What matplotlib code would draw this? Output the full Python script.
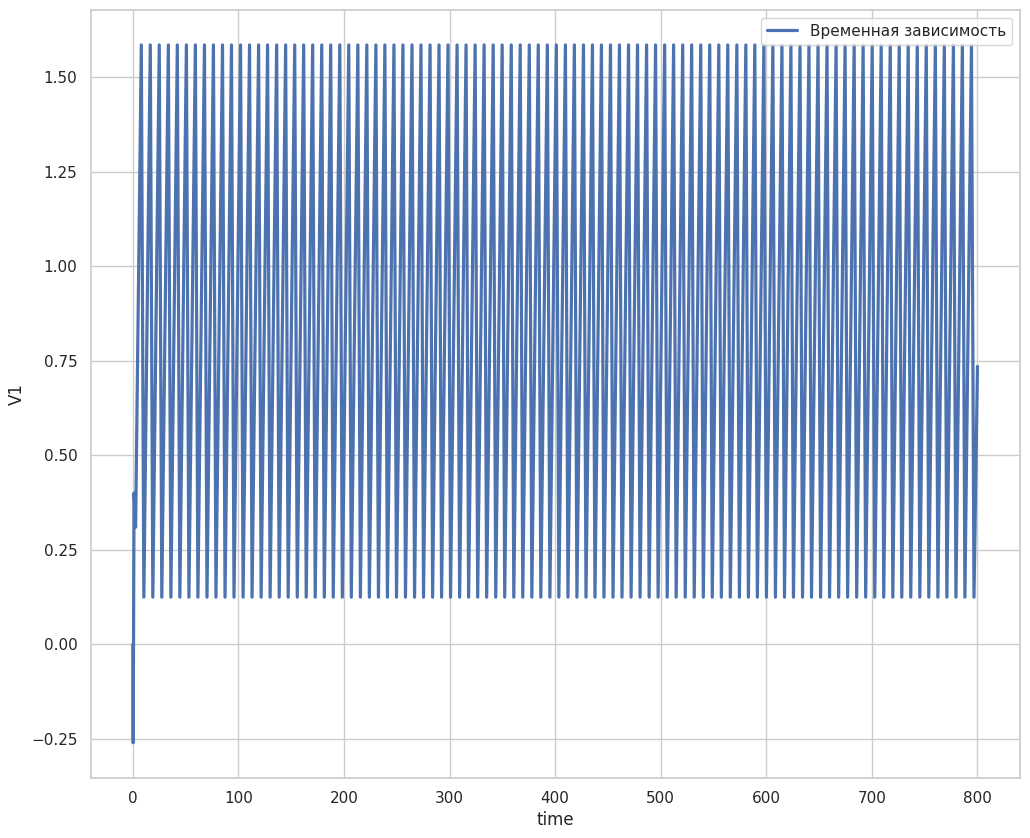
import numpy as np
import matplotlib
matplotlib.use("Agg")
import matplotlib.pyplot as plt
import seaborn as sns

# start-up transient
start_t = [0.0, 0.3, 1.1, 2.6]
start_v = [0.0, -0.26, 0.40, 0.31]

# times of the spikes (upper tips)
peak_t = [8.0, 16.5, 25.0, 33.6, 42.1, 50.7, 59.2, 67.8, 76.3, 84.9,
          93.4, 102.0, 110.5, 119.1, 127.6, 136.2, 144.7, 153.3, 161.8, 170.3,
          178.9, 187.4, 196.0, 204.5, 213.1, 221.6, 230.2, 238.7, 247.3, 255.8,
          264.4, 272.9, 281.5, 290.0, 298.5, 307.1, 315.6, 324.2, 332.7, 341.3,
          349.8, 358.4, 366.9, 375.5, 384.0, 392.6, 401.1, 409.7, 418.2, 426.8,
          435.3, 443.8, 452.4, 460.9, 469.5, 478.0, 486.6, 495.1, 503.7, 512.2,
          520.8, 529.3, 537.9, 546.4, 555.0, 563.5, 572.1, 580.6, 589.1, 597.7,
          606.2, 614.8, 623.3, 631.9, 640.4, 649.0, 657.5, 666.1, 674.6, 683.2,
          691.7, 700.3, 708.8, 717.4, 725.9, 734.4, 743.0, 751.5, 760.1, 768.6,
          777.2, 785.7, 794.3]
peak_v = 1.585
trough_v = 0.125
fall_time = 2.4  # peak -> trough

end_t = 800.0
end_v = 0.735

t = list(start_t)
v = list(start_v)
for p in peak_t:
    t += [p, p + fall_time]
    v += [peak_v, trough_v]
t.append(end_t)
v.append(end_v)

sns.set_theme(style="whitegrid")

fig, ax = plt.subplots(figsize=(10.3, 8.38), dpi=100)
fig.subplots_adjust(left=0.088, right=0.990, bottom=0.072, top=0.988)

ax.plot(t, v, color="#4c72b0", linewidth=2.3, label="Временная зависимость")
ax.set_xlabel("time")
ax.set_ylabel("V1")
ax.legend(loc="upper right")

fig.savefig("out.png", dpi=100)
